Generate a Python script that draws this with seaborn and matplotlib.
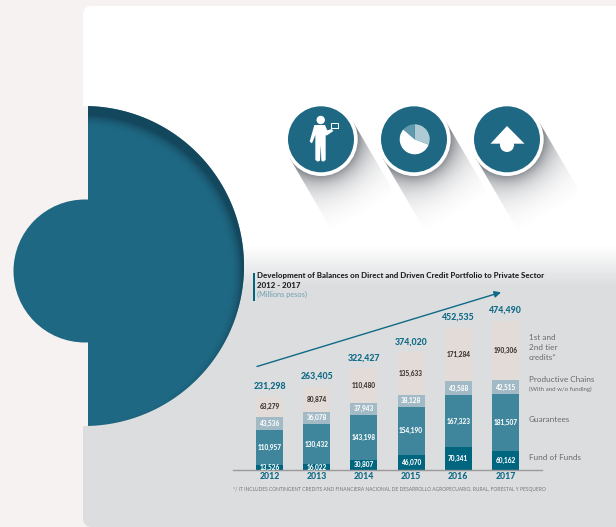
import numpy as np
import matplotlib
matplotlib.use("Agg")
import matplotlib.pyplot as plt
from matplotlib.patches import Circle, Wedge, Polygon, Rectangle, FancyBboxPatch
from matplotlib.colors import LinearSegmentedColormap, to_rgb
import seaborn as sns

sns.set_theme(style="white")
plt.rcParams["font.family"] = ["Lato", "DejaVu Sans"]

# Balances in millions of pesos
years = ["2012", "2013", "2014", "2015", "2016", "2017"]
fund_of_funds = [13526, 16022, 30807, 46070, 70341, 60162]
guarantees = [110957, 130432, 143198, 154190, 167323, 181507]
productive_chains = [43536, 36078, 37943, 38128, 43588, 42515]
tier_credits = [63279, 80874, 110480, 135633, 171284, 190306]
totals = [231298, 263405, 322427, 374020, 452535, 474490]

series_names = ["Fund of Funds", "Guarantees", "Productive Chains", "1st and 2nd tier credits"]
series_values = [fund_of_funds, guarantees, productive_chains, tier_credits]
series_colors = ["#00657F", "#3F869C", "#A2BAC5", "#E3DBD8"]
label_colors = ["white", "white", "white", "#3a3532"]

TEAL = "#1F6883"
DEEP = "#0E6A86"
PAGE = "#F6F2F1"
GREY_CARD = "#DCDDDF"
W, H = 616, 527

fig = plt.figure(figsize=(W / 100, H / 100), dpi=100, facecolor=PAGE)

# Backdrop layer works in pixel units with the origin at the top left
bg = fig.add_axes([0, 0, 1, 1], zorder=0)
bg.set_axis_off()
xx, yy = np.meshgrid(np.arange(W) + 0.5, np.arange(H) + 0.5)

# Rounded card fading from white to grey
card = FancyBboxPatch((83 + 9, 6 + 9), 700, 521 - 18, boxstyle="round,pad=9,rounding_size=9",
                      fc="none", ec="none")
bg.add_patch(card)
fade = np.clip((yy - 246) / 40, 0, 1)
card_cmap = LinearSegmentedColormap.from_list("card", ["white", GREY_CARD])
card_img = bg.imshow(fade, extent=(0, W, H, 0), cmap=card_cmap, vmin=0, vmax=1,
                     aspect="auto", zorder=1)
card_img.set_clip_path(card)


def long_shadow(cx, cy, r=36.5):
    """Soft diagonal shadow falling to the lower right of a round badge."""
    d = np.array([42.0, 72.0])
    d = d / np.linalg.norm(d)
    n = np.array([d[1], -d[0]])
    length = 84
    rx, ry = xx - cx, yy - cy
    along = rx * d[0] + ry * d[1]
    gap = np.hypot(rx, ry) - r
    alpha = 0.50 * np.exp(-np.clip(gap, 0, None) / 11) + 0.24 * np.clip(1 - along / length, 0, 1) ** 1.3
    rgba = np.zeros((H, W, 4))
    rgba[..., :3] = to_rgb("#4a4f58")
    rgba[..., 3] = np.clip(alpha, 0, 1)
    corners = [cx - n[0] * r, cy - n[1] * r], [cx + n[0] * r, cy + n[1] * r]
    poly = Polygon([corners[0], corners[1],
                    [corners[1][0] + d[0] * length, corners[1][1] + d[1] * length],
                    [corners[0][0] + d[0] * length, corners[0][1] + d[1] * length]],
                   fc="none", ec="none", transform=bg.transData)
    bg.add_patch(poly)
    im = bg.imshow(rgba, extent=(0, W, H, 0), aspect="auto", zorder=2)
    im.set_clip_path(poly)


def badge(cx, cy):
    long_shadow(cx, cy)
    bg.add_patch(Circle((cx, cy), 36.7, fc="white", ec="none", zorder=3))
    bg.add_patch(Circle((cx, cy), 33, fc=TEAL, ec="none", zorder=3.1))


badge_y = 139.3
badge_x = [321, 414, 507]
for bx in badge_x:
    badge(bx, badge_y)


def icon_points(pts):
    # Outline points are drawn at triple scale around the first badge
    return [(270 + a / 3, 90 + b / 3) for a, b in pts]


# Person holding a laptop
bg.add_patch(Circle((320.7, 120), 4.2, fc="white", ec="none", zorder=4))
body = [(133, 105), (165, 105), (172, 121), (185, 117), (190, 123), (171, 136), (167, 136),
        (167, 210), (160, 215), (154, 212), (152, 165), (150, 212), (143, 215), (136, 210),
        (136, 135), (126, 160), (119, 155)]
bg.add_patch(Polygon(icon_points(body), fc="white", ec="none", zorder=4))
bg.add_patch(Rectangle((331, 122.5), 7, 5, fc=TEAL, ec="white", lw=0.7, zorder=4))
bg.add_patch(Rectangle((330.5, 127.5), 8, 1.2, fc="white", ec="none", zorder=4))

# Pie pictogram
pie_c = (414.7, 139.3)
bg.add_patch(Wedge(pie_c, 15, 21, 221, fc="white", ec="none", zorder=4))
bg.add_patch(Wedge(pie_c, 15, -90, 21, fc="#AECBD5", ec="none", zorder=4))
bg.add_patch(Wedge(pie_c, 15, -139, -90, fc="#5F9AAE", ec="none", zorder=4))

# Upward arrow pictogram
bg.add_patch(Polygon([(507, 126), (524.5, 143.7), (490.5, 143.7)], fc="white", ec="none", zorder=4))
bg.add_patch(Circle((507, 145), 7, fc="white", ec="none", zorder=4))

# Large half disc with the smaller disc behind it
bg.add_patch(Rectangle((80, 106), 8.5, 320, fc=PAGE, ec="none", zorder=4))
bg.add_patch(Rectangle((87.6, 106), 1.2, 320, fc="white", ec="none", zorder=4.1))
bg.add_patch(Circle((85, 271), 71.5, fc=TEAL, ec="none", zorder=4.2))
bg.add_patch(Rectangle((80, 205), 12, 132, fc=TEAL, ec="none", zorder=4.2))
cxb, cyb, rb = 84, 266, 160
angles = np.linspace(-np.pi / 2 + 0.025, np.pi / 2 - 0.025, 240)
half = Polygon(np.column_stack([cxb + rb * np.cos(angles), cyb + rb * np.sin(angles)]),
               fc=TEAL, ec="none", zorder=4.3)
bg.add_patch(half)
rad = np.hypot(xx - cxb + 1, yy - cyb - 9)
edge = np.clip((rad - (rb - 13)) / 13, 0, 1) ** 2
shade = np.zeros((H, W, 4))
shade[..., :3] = to_rgb("#0F3A4E")
shade[..., 3] = edge * 0.7
shade_img = bg.imshow(shade, extent=(0, W, H, 0), aspect="auto", zorder=4.4)
shade_img.set_clip_path(half)

bg.set_xlim(0, W)
bg.set_ylim(H, 0)

# Heading block
bg.add_patch(Rectangle((252.8, 272.5), 1.8, 28.5, fc="#00657F", ec="none", zorder=5))
bg.text(257, 275.5, "Development of Balances on Direct and Driven Credit Portfolio to Private Sector",
        fontsize=5.7, fontweight="black", color="#222222", va="center", zorder=6)
bg.text(257, 285, "2012 - 2017", fontsize=5.7, fontweight="black", color="#222222", va="center", zorder=6)
bg.text(257, 294.5, "(Millions pesos)", fontsize=5.3, color="#6FA0B2", va="center", zorder=6)

# Growth arrow across the bars
bg.annotate("", xy=(501, 292.3), xytext=(257, 366.5), zorder=6,
            arrowprops=dict(arrowstyle="-|>,head_width=0.16,head_length=0.32", color=DEEP, lw=1.0,
                            shrinkA=0, shrinkB=0))

# Series captions to the right of the bars
caption = "#6b6b6b"
for y, s in [(338, "1st and"), (348, "2nd tier"), (357, "credits*"), (380, "Productive Chains"),
             (419, "Guarantees"), (458, "Fund of Funds")]:
    bg.text(529, y, s, fontsize=5.9, color=caption, va="center", zorder=6)
bg.text(529, 389, "(With and w/o funding)", fontsize=4.4, color=caption, va="center", zorder=6)
bg.text(233, 490, "*/ IT INCLUDES CONTINGENT CREDITS AND FINANCIERA NACIONAL DE DESARROLLO "
        "AGROPECUARIO, RURAL, FORESTAL Y PESQUERO",
        fontsize=3.5, color="#777777", va="center", zorder=6)

# Stacked bar chart
base_y, top_y = 469.5, 290
left_x, right_x = 233, 542
ax = fig.add_axes([left_x / W, 1 - base_y / H, (right_x - left_x) / W, (base_y - top_y) / H], zorder=2)
ax.patch.set_alpha(0)
bottom = np.zeros(len(years))
for name, values, color, lab in zip(series_names, series_values, series_colors, label_colors):
    sns.barplot(x=years, y=values, bottom=bottom, color=color, width=0.572, saturation=1,
                errorbar=None, ax=ax, label=name, legend=False, edgecolor="none", linewidth=0)
    ax.bar_label(ax.containers[-1], fmt="{:,.0f}", label_type="center", color=lab,
                 fontsize=4.7, fontweight="black")
    bottom = bottom + np.array(values)

ax.bar_label(ax.containers[-1], labels=[f"{t:,}" for t in totals], padding=4.2, color=DEEP,
             fontsize=6.3, fontweight="black")

spacing = 47.2
first = 269.5
ax.set_xlim((left_x - first) / spacing, (right_x - first) / spacing)
ax.set_ylim(0, (base_y - top_y) / 0.000314)
ax.set_yticks([])
ax.set_xlabel("")
ax.set_ylabel("")
sns.despine(ax=ax, left=True)
ax.spines["bottom"].set_color("#9A9A9A")
ax.spines["bottom"].set_linewidth(1.0)
ax.tick_params(axis="x", length=0, pad=1.5, labelsize=6.3, labelcolor=DEEP)
for t in ax.get_xticklabels():
    t.set_fontweight("black")

fig.savefig("out.png", dpi=100, facecolor=PAGE)
